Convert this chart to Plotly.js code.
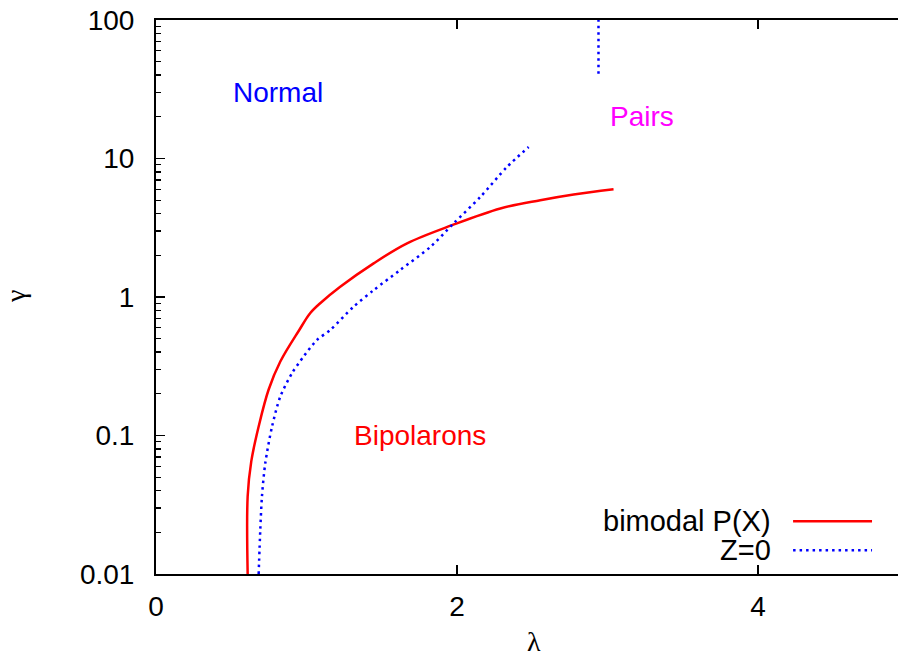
<!DOCTYPE html>
<html>
<head>
<meta charset="utf-8">
<script src="https://cdn.plot.ly/plotly-3.0.1.min.js"></script>
<style>html,body{margin:0;padding:0;background:#fff;}#chart{width:898px;height:663px;}</style>
</head>
<body>
<div id="chart"></div>
<script>
// bimodal P(X) boundary (red solid)
const lamBimodal = [0.609, 0.609, 0.633, 0.682, 0.748, 0.826, 0.952, 1.024, 1.091, 1.224, 1.446, 1.668, 1.967, 2.288, 2.553, 2.775, 3.04];
const gamBimodal = [0.01, 0.0364, 0.065, 0.116, 0.214, 0.342, 0.578, 0.764, 0.902, 1.186, 1.75, 2.44, 3.30, 4.36, 5.00, 5.50, 6.0];
// Z=0 boundary (blue dotted), lower branch
const lamZ0 = [0.682, 0.693, 0.704, 0.726, 0.771, 0.826, 0.904, 0.981, 1.070, 1.158, 1.313, 1.446, 1.623, 1.823, 1.977, 2.155, 2.332, 2.476];
const gamZ0 = [0.01, 0.021, 0.0364, 0.063, 0.116, 0.191, 0.282, 0.372, 0.490, 0.578, 0.851, 1.12, 1.57, 2.30, 3.40, 5.28, 8.69, 12.1];
// Z=0 boundary, upper branch
const lamZ0Upper = [2.94, 2.94];
const gamZ0Upper = [41, 100];
// region labels
const regionNames = ["Normal", "Pairs", "Bipolarons"];
const regionLam = [0.5, 3.0, 1.3];
const regionGam = [30, 20, 0.1];
const regionColors = ["#0000ff", "#ff00ff", "#ff0000"];
// axes
const xTickVals = [0, 2, 4];
const yTickVals = [0.01, 0.1, 1, 10, 100];
const yTickText = ["0.01", "0.1", "1", "10", "100"];
const seriesNames = ["bimodal P(X)", "Z=0"];
const xTitle = "λ";
const yTitle = "γ";

const FONT = "Liberation Sans, Arial, Helvetica, sans-serif";
const SERIF = "Liberation Serif, DejaVu Serif, serif";

const traces = [
  {
    x: lamBimodal, y: gamBimodal, name: seriesNames[0], type: "scatter", mode: "lines",
    line: {color: "#ff0000", width: 2.5, shape: "spline", smoothing: 1}, showlegend: false
  },
  {
    x: lamZ0.concat([null], lamZ0Upper), y: gamZ0.concat([null], gamZ0Upper),
    name: seriesNames[1], type: "scatter", mode: "lines", connectgaps: false,
    line: {color: "#0000ff", width: 2.5, dash: "2.5px,4px", shape: "spline", smoothing: 0.8}, showlegend: false
  }
];

const annotations = regionNames.map((t, i) => ({
  text: t, x: regionLam[i], y: Math.log10(regionGam[i]), xref: "x", yref: "y",
  xanchor: "left", yanchor: "middle", showarrow: false,
  font: {family: FONT, size: 28, color: regionColors[i]}
}));

// axis titles (placed like the gnuplot original: centred on the full 0..5 axis)
annotations.push({
  text: xTitle, x: 0.5, xref: "paper", y: -0.121, yref: "paper",
  xanchor: "center", yanchor: "middle", showarrow: false, xshift: 7,
  font: {family: SERIF, size: 28, color: "#000"}
});
annotations.push({
  text: yTitle, x: -0.19, xref: "paper", y: 0.5, yref: "paper", textangle: -90,
  xanchor: "center", yanchor: "middle", showarrow: false,
  font: {family: SERIF, size: 28, color: "#000"}
});

// hand-made legend (text to the left of the sample line, as in the original)
const legY = [0.095, 0.043];
const shapes = [];
seriesNames.forEach((n, i) => {
  annotations.push({
    text: n, x: 0.832, y: legY[i], xref: "paper", yref: "paper",
    xanchor: "right", yanchor: "middle", showarrow: false,
    font: {family: FONT, size: 29, color: "#000"}
  });
  shapes.push({
    type: "line", xref: "paper", yref: "paper", x0: 0.8586, x1: 0.965, y0: legY[i], y1: legY[i],
    line: i === 0 ? {color: "#ff0000", width: 2.5} : {color: "#0000ff", width: 2.5, dash: "2.5px,4px"}
  });
});

const layout = {
  width: 898, height: 663,
  margin: {l: 156, r: 0, t: 20, b: 89},
  paper_bgcolor: "#fff", plot_bgcolor: "#fff",
  font: {family: FONT, size: 28, color: "#000"},
  showlegend: false,
  xaxis: {
    range: [0, 4.93], tickvals: xTickVals, ticktext: xTickVals.map(String),
    ticks: "inside", ticklen: 9, tickwidth: 1.3, tickcolor: "#000",
    showline: true, linecolor: "#000", linewidth: 2, mirror: "ticks",
    showgrid: false, zeroline: false, ticklabelstandoff: 6,
    tickfont: {family: FONT, size: 28, color: "#000"}
  },
  yaxis: {
    type: "log", range: [-2, 2], tickvals: yTickVals, ticktext: yTickText,
    ticks: "inside", ticklen: 9, tickwidth: 1.3, tickcolor: "#000",
    minor: {ticks: "inside", ticklen: 5, tickwidth: 1.3, tickcolor: "#000", dtick: "D1", showgrid: false},
    showline: true, linecolor: "#000", linewidth: 2, mirror: false,
    showgrid: false, zeroline: false, ticklabelstandoff: 14,
    tickfont: {family: FONT, size: 28, color: "#000"}
  },
  annotations: annotations,
  shapes: shapes
};

Plotly.newPlot("chart", traces, layout, {displayModeBar: false, staticPlot: true});
</script>
</body>
</html>
